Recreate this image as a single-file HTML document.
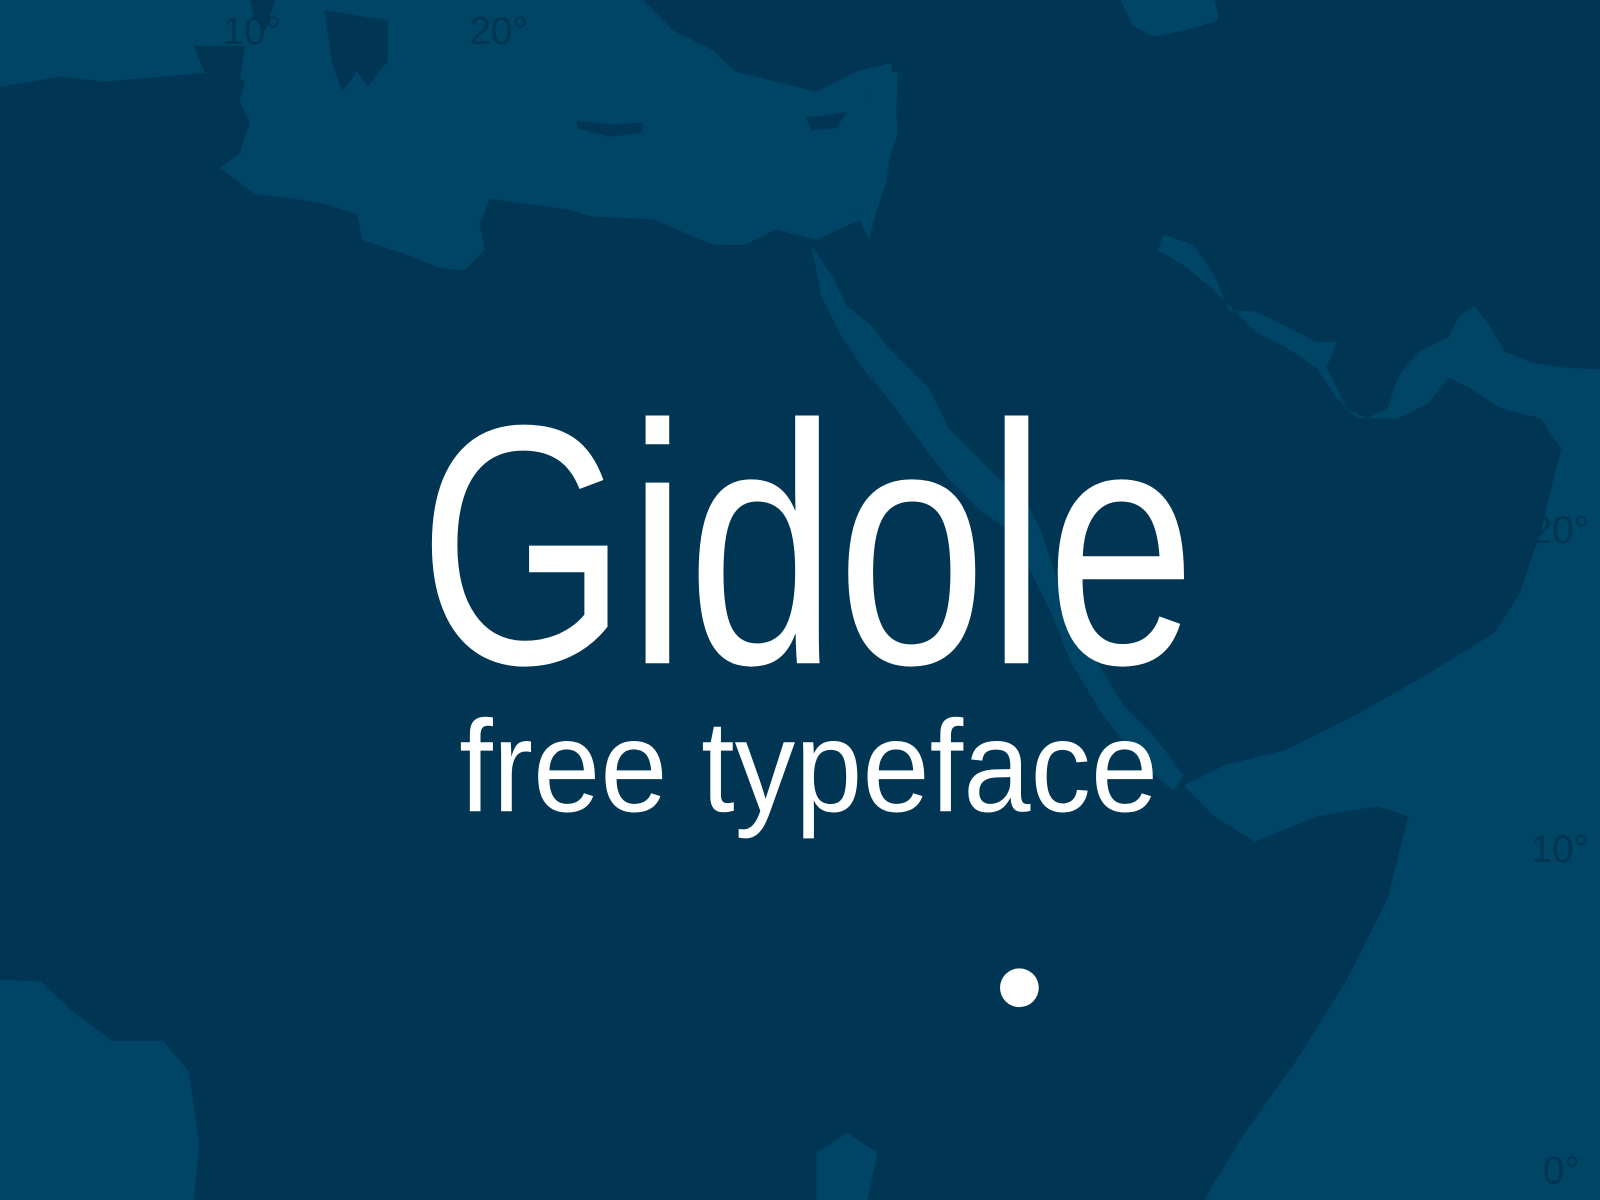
<!DOCTYPE html>
<html><head><meta charset="utf-8"><style>
html,body{margin:0;padding:0;background:#003654;}
svg{display:block}
</style></head><body>
<svg width="1600" height="1200" viewBox="0 0 1568 1176" preserveAspectRatio="none" xmlns="http://www.w3.org/2000/svg">
<rect x="0" y="0" width="1568" height="1176" fill="#003654"/>
<g fill="#004466">
<path d="M0,0 L875,0 L870,30 L880,130 L860,190 L855,210 L800,235 L760,225 L730,240 L700,240 L640,215 L580,212 L555,205 L480,195 L470,220 L475,245 L455,265 L430,262 L400,250 L355,235 L350,210 L320,200 L290,195 L250,190 L230,175 L215,165 L235,150 L245,120 L235,100 L240,80 L215,70 L150,76 L100,80 L60,75 L0,85 Z"/>
<path d="M1098,0 L1190,0 L1195,20 L1160,30 L1130,36 L1110,25 Z"/>
<path d="M795,240 L815,270 L830,300 L855,320 L870,340 L890,360 L910,380 L930,420 L960,450 L980,470 L1000,480 L1020,520 L1040,580 L1070,640 L1100,690 L1130,720 L1160,760 L1150,775 L1120,750 L1080,700 L1050,650 L1030,600 L1010,560 L990,520 L960,500 L930,470 L900,430 L870,390 L845,360 L825,330 L805,290 Z"/>
<path d="M850,72 L880,70 L878,120 L868,180 L858,210 L852,235 L835,200 L845,120 Z"/>
<path d="M1140,230 L1170,240 L1190,270 L1205,305 L1230,305 L1260,320 L1290,335 L1310,335 L1300,360 L1320,400 L1340,410 L1360,400 L1370,370 L1390,345 L1420,330 L1430,310 L1445,300 L1460,320 L1475,345 L1500,355 L1530,360 L1568,362 L1568,1176 L1180,1176 L1220,1110 L1270,1040 L1320,960 L1360,880 L1380,800 L1350,790 L1290,800 L1230,825 L1190,800 L1160,770 L1200,750 L1260,735 L1330,700 L1400,660 L1465,620 L1490,580 L1510,520 L1530,440 L1510,410 L1470,400 L1440,380 L1420,370 L1400,395 L1370,410 L1330,410 L1310,390 L1290,360 L1260,340 L1230,325 L1205,300 L1185,280 L1160,260 L1135,245 Z"/>
<path d="M0,960 L40,962 L70,990 L110,1020 L160,1020 L185,1050 L195,1120 L190,1176 L0,1176 Z"/>
<path d="M800,1130 L830,1110 L860,1130 L850,1176 L800,1176 Z"/>
</g>
<g fill="#003654">
<path d="M190,45 L240,45 L235,80 L220,85 L200,70 Z"/>
<path d="M318,10 L380,20 L380,60 L360,85 L350,70 L335,90 L325,60 Z"/>
<path d="M565,118 L600,122 L630,120 L630,130 L598,134 L566,126 Z"/>
<path d="M630,0 L880,0 L880,60 L840,70 L800,90 L760,80 L720,70 L700,50 L660,30 Z"/>
<path d="M790,115 L830,110 L820,125 L795,128 Z"/>
<path d="M245,0 L270,0 L260,30 L250,20 Z"/>
</g>
<g font-family="'Liberation Sans', 'DejaVu Sans', sans-serif" font-size="38" fill="#003552">
<text x="218" y="43">10°</text>
<text x="460" y="43">20°</text>
<text x="705" y="43">30°</text>
<text x="948" y="43">40°</text>
<text x="1190" y="43">50°</text>
<text x="1432" y="43">60°</text>
<text x="1500" y="218">30°</text>
<text x="1500" y="532">20°</text>
<text x="1500" y="845">10°</text>
<text x="1512" y="1160">0°</text>
</g>
<text x="410" y="650" font-family="'Liberation Sans', sans-serif" font-size="335" fill="#ffffff" textLength="762" lengthAdjust="spacingAndGlyphs">Gidole</text>
<text x="450" y="795" font-family="'Liberation Sans', sans-serif" font-size="128" fill="#ffffff" textLength="685" lengthAdjust="spacingAndGlyphs">free typeface</text>
<circle cx="999" cy="968" r="19" fill="#ffffff"/>
</svg>
</body></html>
